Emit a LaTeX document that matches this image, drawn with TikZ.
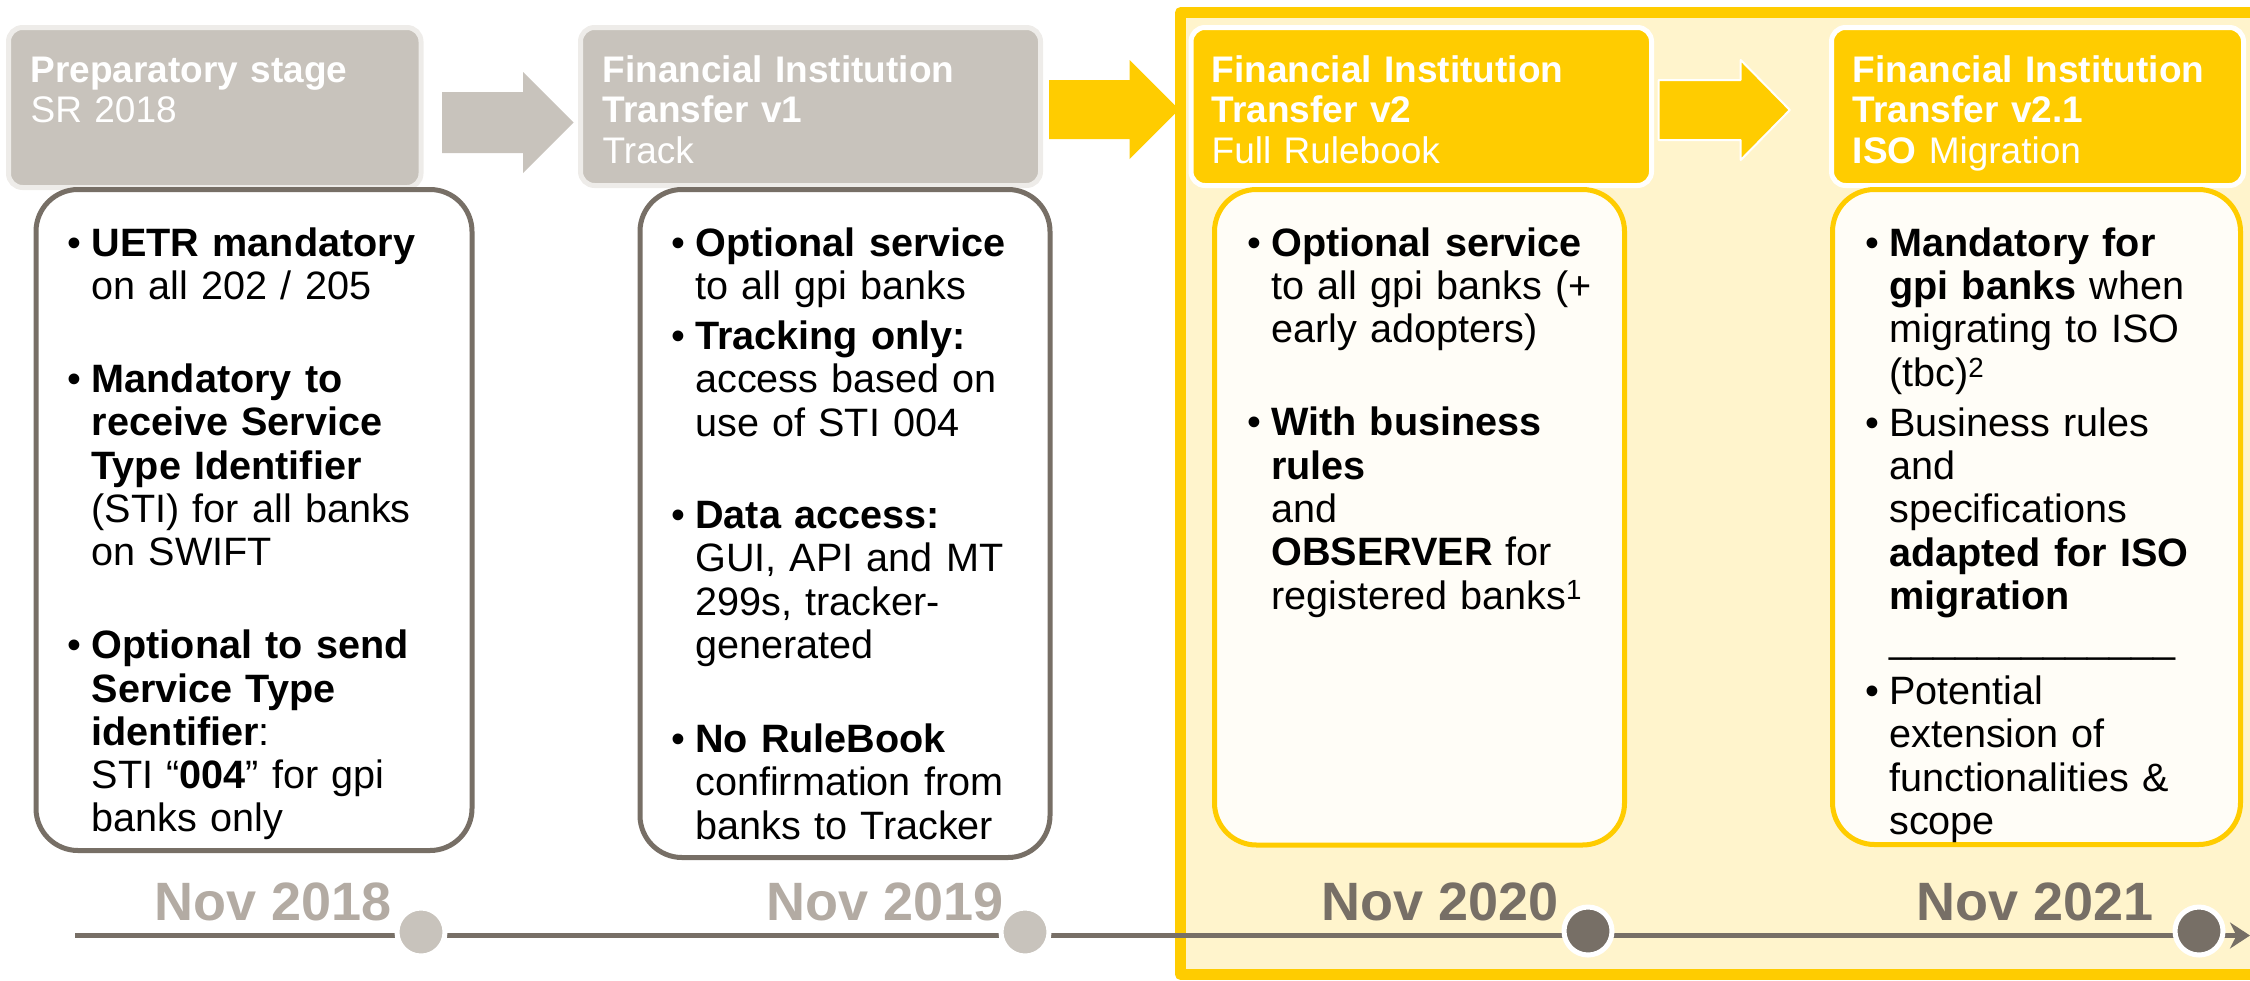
\documentclass[tikz,border=0pt]{standalone}
\usepackage{fontspec}
\setmainfont{Liberation Sans}
\usetikzlibrary{arrows.meta}
\definecolor{greybox}{HTML}{C8C3BC}
\definecolor{greyglow}{HTML}{EEECE9}
\definecolor{taupe}{HTML}{776F66}
\definecolor{datelight}{HTML}{B3ABA3}
\definecolor{swiftyellow}{HTML}{FFCC00}
\definecolor{paleyellow}{HTML}{FFF4CC}
\definecolor{cream}{HTML}{FFFDF7}
\setlength{\parindent}{0pt}
\newcommand{\bodystrut}{\rule{0pt}{32pt}}
\newcommand{\headstrut}{\rule{0pt}{30pt}}
\newcommand{\bul}{\leavevmode\llap{\textbullet\hspace{10pt}}}
\newcommand{\blkarrow}[7]{%
  \path[#1] (#2,#5-#6) -- (#3,#5-#6) -- (#3,#5-#7) -- (#4,#5)
    -- (#3,#5+#7) -- (#3,#5+#6) -- (#2,#5+#6) -- cycle;}
\begin{document}
\begin{tikzpicture}[x=1pt, y=-1pt, line join=round,
  hbox/.style={rectangle, rounded corners=14pt, line width=5pt, inner sep=0pt, outer sep=0pt, anchor=north west},
  bbox/.style={rectangle, rounded corners=42pt, line width=5pt, inner sep=0pt, outer sep=0pt, anchor=north west},
  htext/.style={anchor=north west, inner sep=0pt, align=left, text width=440pt, text=white, font=\fontsize{37}{40.5}\selectfont},
  btext/.style={anchor=north west, inner sep=0pt, align=left, text width=420pt, font=\fontsize{39.6}{43.3}\selectfont},
  date/.style={anchor=base east, inner sep=0pt, font=\fontsize{54}{60}\selectfont\bfseries},
  dot/.style={circle, minimum size=48pt, inner sep=0pt, draw=white, line width=5pt}]
\useasboundingbox (0,0) rectangle (2250,980);
\clip (0,0) rectangle (2250,980);

% current period
\draw[line width=11pt, draw=swiftyellow, fill=paleyellow] (1180.5,12.5) rectangle (2262,974.5);

% stage headers
\node[hbox, fill=greybox, draw=greyglow, minimum width=412.5pt, minimum height=160pt] (h1) at (8.5,27.5) {};
\node[hbox, fill=greybox, draw=greyglow, minimum width=460pt, minimum height=158pt] (h2) at (580.5,27.5) {};
\node[hbox, fill=swiftyellow, draw=white, minimum width=460.5pt, minimum height=158pt] (h3) at (1191,27.5) {};
\node[hbox, fill=swiftyellow, draw=white, minimum width=412pt, minimum height=158pt] (h4) at (1831.5,27.5) {};

\blkarrow{fill=greybox}{442}{523}{573.5}{122.5}{30.5}{50.5}
\blkarrow{fill=swiftyellow}{1049}{1129.5}{1179}{109.5}{29.5}{49.5}
\blkarrow{fill=swiftyellow, draw=white, line width=2pt}{1658.6}{1740.7}{1789.8}{110}{30}{50}

\node[htext] (t1) at (30.5,52) {\headstrut\textbf{Preparatory stage}\\SR 2018};
\node[htext] (t2) at (602.5,52) {\headstrut\textbf{Financial Institution}\\\textbf{Transfer v1}\\Track};
\node[htext] (t3) at (1211.5,52) {\headstrut\textbf{Financial Institution}\\\textbf{Transfer v2}\\Full Rulebook};
\node[htext] (t4) at (1852.5,52) {\headstrut\textbf{Financial Institution}\\\textbf{Transfer v2.1}\\\textbf{ISO} Migration};

% stage contents
\node[bbox, fill=white, draw=taupe, minimum width=436pt, minimum height=661pt] (b1) at (36,189.5) {};
\node[bbox, fill=white, draw=taupe, minimum width=410pt, minimum height=668pt] (b2) at (640,189.5) {};
\node[bbox, fill=cream, draw=swiftyellow, minimum width=410pt, minimum height=655.5pt] (b3) at (1214.5,189.5) {};
\node[bbox, fill=cream, draw=swiftyellow, minimum width=408pt, minimum height=655pt] (b4) at (1832.5,189.5) {};

\node[btext] (l1) at (91.5,224) {\bodystrut\bul\textbf{UETR mandatory}\\
on all 202 / 205\\[49.7pt]
\bul\textbf{Mandatory to}\\
\textbf{receive Service}\\
\textbf{Type Identifier}\\
(STI) for all banks\\
on SWIFT\\[49.7pt]
\bul\textbf{Optional to send}\\
\textbf{Service Type}\\
\textbf{identifier}:\\
STI “\textbf{004}” for gpi\\
banks only};
\node[btext] (l2) at (695,224) {\bodystrut\bul\textbf{Optional service}\\
to all gpi banks\\[6.7pt]
\bul\textbf{Tracking only:}\\
access based on\\
use of STI 004\\[49pt]
\bul\textbf{Data access:}\\
GUI, API and MT\\
299s, tracker-\\
generated\\[51pt]
\bul\textbf{No RuleBook}\\
confirmation from\\
banks to Tracker};
\node[btext] (l3) at (1271,224) {\bodystrut\bul\textbf{Optional service}\\
to all gpi banks (+\\
early adopters)\\[49.7pt]
\bul\textbf{With business}\\
\textbf{rules}\\
and\\
\textbf{OBSERVER} for\\
registered banks\textsuperscript{1}};
\node[btext] (l4) at (1889,224) {\bodystrut\bul\textbf{Mandatory for}\\
\textbf{gpi banks} when\\
migrating to ISO\\
(tbc)\textsuperscript{2}\\[6.7pt]
\bul Business rules\\
and\\
specifications\\
\textbf{adapted for ISO}\\
\textbf{migration}\\
\_\_\_\_\_\_\_\_\_\_\_\_\_\\[8.7pt]
\bul Potential\\
extension of\\
functionalities \&\\
scope};

% timeline
\coordinate (tl0) at (75,935.5);
\coordinate (tl1) at (2250,935.5);
\draw[taupe, line width=5pt, -{Stealth[length=20pt, width=26pt]}] (tl0) -- (tl1);
\node[dot, fill=greybox] (n18) at (421,932) {};
\node[dot, fill=greybox] (n19) at (1025,932) {};
\node[dot, fill=taupe] (n20) at (1588,931) {};
\node[dot, fill=taupe] (n21) at (2199,931) {};
\node[date, text=datelight] (d18) at (392,920) {Nov 2018};
\node[date, text=datelight] (d19) at (1004,920) {Nov 2019};
\node[date, text=taupe] (d20) at (1559,920) {Nov 2020};
\node[date, text=taupe] (d21) at (2154,920) {Nov 2021};
\end{tikzpicture}
\end{document}
